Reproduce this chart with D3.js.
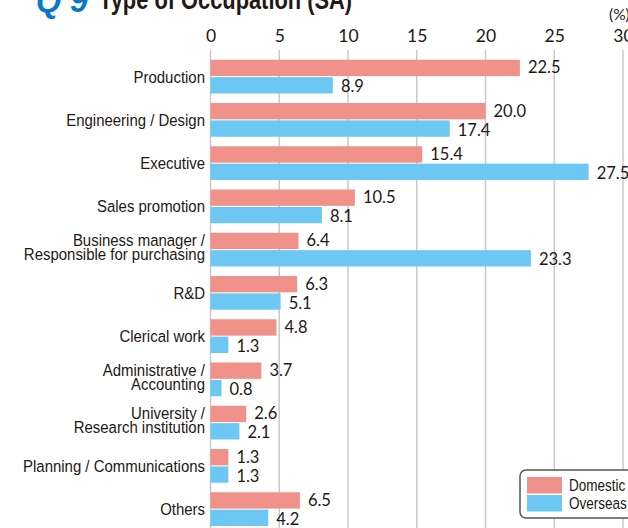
<!DOCTYPE html>
<html>
<head>
<meta charset="utf-8">
<script src="https://cdn.jsdelivr.net/npm/d3@7"></script>
<style>
  body { margin: 0; background: #fff; }
  svg { display: block; }
  .cat { font-family: "Liberation Sans", Arial, sans-serif; font-size: 17px; fill: #231815; }
  .num { font-family: Lato, "Open Sans", sans-serif; font-size: 16.5px; fill: #231815; }
</style>
</head>
<body>
<div id="chart"></div>
<script>
// data
var categories = [
  "Production", "Engineering / Design", "Executive", "Sales promotion",
  "Business manager /\nResponsible for purchasing", "R&D", "Clerical work",
  "Administrative /\nAccounting", "University /\nResearch institution",
  "Planning / Communications", "Others"
];
var domestic = [22.5, 20.0, 15.4, 10.5, 6.4, 6.3, 4.8, 3.7, 2.6, 1.3, 6.5];
var overseas = [8.9, 17.4, 27.5, 8.1, 23.3, 5.1, 1.3, 0.8, 2.1, 1.3, 4.2];
var seriesNames = ["Domestic", "Overseas"];
var xTicks = [0, 5, 10, 15, 20, 25, 30];

var colors = { Domestic: "#f0918a", Overseas: "#6cc8f2" };

var W = 628, H = 528;
var narrow = 0.88; // the labels use a condensed face, squeeze a normal one

var svg = d3.select("#chart").append("svg")
    .attr("width", W)
    .attr("height", H);

// scales
var x = d3.scaleLinear()
    .domain([0, 30])
    .range([210.5, 623]);

var y = d3.scaleBand()
    .domain(categories)
    .range([55, 55 + 11 * 43.25])
    .paddingInner(0.22)
    .paddingOuter(0.11);

var ySub = d3.scaleBand()
    .domain(seriesNames)
    .range([0, y.bandwidth()])
    .paddingInner(0.06);

// title (cut off at top of the picture)
svg.append("text")
    .attr("transform", "translate(36,12) scale(0.95,1)")
    .style("font-family", "'Liberation Sans', Arial, sans-serif")
    .style("font-weight", "bold")
    .style("font-style", "italic")
    .style("font-size", "34px")
    .style("fill", "#0a78c8")
    .text("Q 9");
svg.append("text")
    .attr("transform", "translate(99,9) scale(0.78,1)")
    .style("font-family", "'Liberation Sans', Arial, sans-serif")
    .style("font-weight", "bold")
    .style("font-size", "28px")
    .style("fill", "#231815")
    .text("Type of Occupation (SA)");

svg.append("text")
    .attr("class", "num")
    .attr("x", 609)
    .attr("y", 20)
    .style("font-size", "15.5px")
    .text("(%)");

// grid lines
svg.append("g")
    .selectAll("line")
    .data(xTicks)
    .enter().append("line")
    .attr("x1", function (d) { return x(d); })
    .attr("x2", function (d) { return x(d); })
    .attr("y1", 50)
    .attr("y2", H)
    .attr("stroke", "#c9c9c9")
    .attr("stroke-width", 1.5);

// top axis labels
var axis = svg.append("g")
    .attr("transform", "translate(0,42)")
    .call(d3.axisTop(x).tickValues(xTicks).tickSize(0).tickPadding(0));
axis.select(".domain").remove();
axis.selectAll("text")
    .attr("class", "num")
    .style("font-size", "17.5px")
    .attr("fill", "#231815")
    .attr("font-family", null)
    .attr("font-size", null);

// rows
var rows = svg.append("g")
    .selectAll(".row")
    .data(categories)
    .enter().append("g")
    .attr("class", "row")
    .attr("transform", function (d) { return "translate(0," + y(d) + ")"; });

var bars = rows.selectAll(".bar")
    .data(function (d, i) {
        return [
            { key: "Domestic", value: domestic[i] },
            { key: "Overseas", value: overseas[i] }
        ];
    })
    .enter().append("g");

bars.append("rect")
    .attr("class", "bar")
    .attr("x", x(0))
    .attr("y", function (d) { return ySub(d.key); })
    .attr("width", function (d) { return x(d.value) - x(0); })
    .attr("height", ySub.bandwidth())
    .style("fill", function (d) { return colors[d.key]; });

bars.append("text")
    .attr("class", "num")
    .attr("x", function (d) { return x(d.value) + 8; })
    .attr("y", function (d) {
        return ySub(d.key) + ySub.bandwidth() / 2 + (d.key == "Domestic" ? 5.5 : 7);
    })
    .text(function (d) { return d.value.toFixed(1); });

// category labels
rows.each(function (d) {
    var lines = d.split("\n");
    var mid = y.bandwidth() / 2;
    var t = d3.select(this).append("text")
        .attr("class", "cat")
        .attr("text-anchor", "end")
        .attr("transform", "translate(205,0) scale(" + narrow + ",1)");
    if (lines.length == 1) {
        t.append("tspan").attr("x", 0).attr("y", mid + 6).text(lines[0]);
    } else {
        t.append("tspan").attr("x", 0).attr("y", mid - 3.5).text(lines[0]);
        t.append("tspan").attr("x", 0).attr("y", mid + 10.5).text(lines[1]);
    }
});

// legend
var legend = svg.append("g").attr("transform", "translate(520,470)");
legend.append("rect")
    .attr("width", 130)
    .attr("height", 48)
    .attr("rx", 6)
    .attr("fill", "#fff")
    .attr("stroke", "#555")
    .attr("stroke-width", 1.5);
seriesNames.forEach(function (s, i) {
    legend.append("rect")
        .attr("x", 7)
        .attr("y", 7 + i * 18)
        .attr("width", 35)
        .attr("height", 16.5)
        .style("fill", colors[s]);
    legend.append("text")
        .attr("class", "cat")
        .attr("transform", "translate(49," + (21 + i * 18) + ") scale(0.82,1)")
        .style("font-size", "16.5px")
        .text(s);
});
</script>
</body>
</html>
